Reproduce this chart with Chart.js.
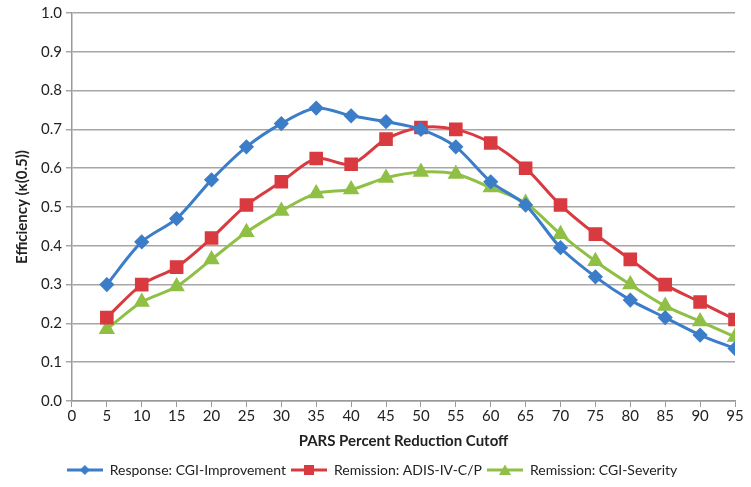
<!DOCTYPE html>
<html>
<head>
<meta charset="utf-8">
<script src="https://cdn.jsdelivr.net/npm/chart.js@4/dist/chart.umd.min.js"></script>
<style>
  html, body { margin: 0; padding: 0; background: #fff; }
  #wrap { width: 751px; height: 487px; }
</style>
</head>
<body>
<div id="wrap"><canvas id="chart"></canvas></div>
<script>
const cutoffs = [5, 10, 15, 20, 25, 30, 35, 40, 45, 50, 55, 60, 65, 70, 75, 80, 85, 90, 95];
const cgiImprovement = [0.30, 0.41, 0.47, 0.57, 0.655, 0.715, 0.755, 0.735, 0.72, 0.70, 0.655, 0.565, 0.505, 0.395, 0.32, 0.26, 0.215, 0.17, 0.135];
const adisRemission = [0.215, 0.30, 0.345, 0.42, 0.505, 0.565, 0.625, 0.61, 0.675, 0.705, 0.70, 0.665, 0.60, 0.505, 0.43, 0.365, 0.30, 0.255, 0.21];
const cgiSeverity = [0.185, 0.255, 0.295, 0.365, 0.435, 0.49, 0.535, 0.545, 0.575, 0.59, 0.585, 0.55, 0.51, 0.43, 0.36, 0.30, 0.245, 0.205, 0.165];
const seriesNames = ['Response: CGI-Improvement', 'Remission: ADIS-IV-C/P', 'Remission: CGI-Severity'];

const blue = '#3b7dc8';
const red = '#d93a40';
const green = '#8fc045';
const font = 'Lato, "Open Sans", sans-serif';

function toPoints(values) {
  return values.map((v, i) => ({ x: cutoffs[i], y: v }));
}

// little line + marker icon for the legend, like the spreadsheet one
function legendIcon(color, shape) {
  const c = document.createElement('canvas');
  c.width = 36; c.height = 12;
  const g = c.getContext('2d');
  g.strokeStyle = color; g.fillStyle = color; g.lineWidth = 3;
  g.beginPath(); g.moveTo(0, 6); g.lineTo(36, 6); g.stroke();
  g.beginPath();
  if (shape === 'diamond') {
    g.moveTo(18, 1); g.lineTo(23, 6); g.lineTo(18, 11); g.lineTo(13, 6);
  } else if (shape === 'square') {
    g.rect(13, 1, 10, 10);
  } else {
    g.moveTo(18, 0.5); g.lineTo(24, 11); g.lineTo(12, 11);
  }
  g.closePath(); g.fill();
  return c;
}
const icons = [legendIcon(blue, 'diamond'), legendIcon(red, 'square'), legendIcon(green, 'triangle')];

const ctx = document.getElementById('chart').getContext('2d');
new Chart(ctx, {
  type: 'line',
  data: {
    datasets: [
      {
        label: seriesNames[0],
        data: toPoints(cgiImprovement),
        borderColor: blue, backgroundColor: blue,
        borderWidth: 3, pointStyle: 'rectRot', pointRadius: 5.5, tension: 0.3
      },
      {
        label: seriesNames[1],
        data: toPoints(adisRemission),
        borderColor: red, backgroundColor: red,
        borderWidth: 3, pointStyle: 'rect', pointRadius: 7.5, tension: 0.3
      },
      {
        label: seriesNames[2],
        data: toPoints(cgiSeverity),
        borderColor: green, backgroundColor: green,
        borderWidth: 3, pointStyle: 'triangle', pointRadius: 6.5, tension: 0.3
      }
    ]
  },
  options: {
    responsive: true,
    maintainAspectRatio: false,
    animation: false,
    layout: { padding: { left: 9, right: 16, top: 7, bottom: 0 } },
    plugins: {
      tooltip: { enabled: false },
      legend: {
        position: 'bottom',
        labels: {
          usePointStyle: true,
          pointStyleWidth: 36,
          color: '#222',
          font: { family: font, size: 14 },
          padding: 5,
          generateLabels: function(chart) {
            const items = Chart.defaults.plugins.legend.labels.generateLabels(chart);
            items.forEach((it, i) => { it.pointStyle = icons[i]; });
            return items;
          }
        }
      }
    },
    scales: {
      x: {
        type: 'linear',
        min: 0, max: 95,
        ticks: { stepSize: 5, color: '#222', font: { family: font, size: 15 }, maxRotation: 0, padding: 0 },
        grid: { drawOnChartArea: false, drawTicks: true, tickLength: 6, color: '#999' },
        border: { color: '#999', width: 1.5 },
        title: { display: true, text: 'PARS Percent Reduction Cutoff', color: '#222', font: { family: font, size: 15, weight: 'bold' }, padding: { top: 7, bottom: 8 } }
      },
      y: {
        min: 0, max: 1,
        ticks: { stepSize: 0.1, color: '#222', font: { family: font, size: 15 }, padding: 4, callback: v => v.toFixed(1) },
        grid: { color: '#a6a6a6', lineWidth: 1.5, tickLength: 6 },
        border: { color: '#999', width: 1.5 },
        title: { display: true, text: 'Efficiency (\u03ba(0.5))', color: '#222', font: { family: font, size: 15, weight: 'bold' }, padding: { bottom: 6 } }
      }
    }
  }
});
</script>
</body>
</html>
